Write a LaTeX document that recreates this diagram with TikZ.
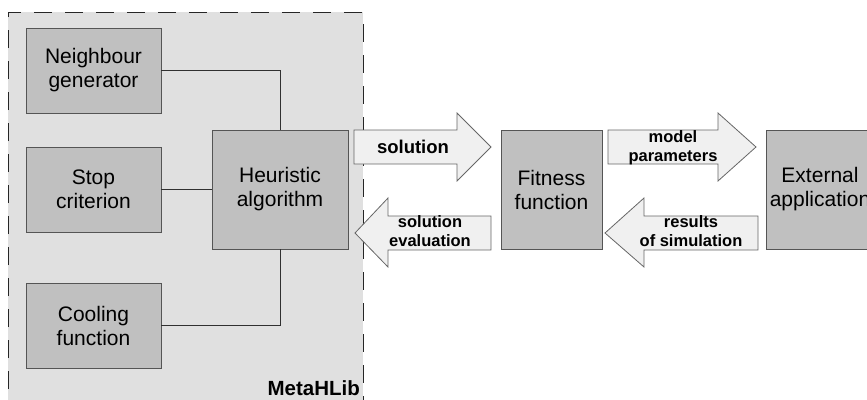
\documentclass[tikz,border=0pt]{standalone}
\usepackage{fontspec}
\setmainfont{Liberation Sans}
\definecolor{outerfill}{HTML}{E0E0E0}
\definecolor{boxfill}{HTML}{C0C0C0}
\definecolor{boxline}{HTML}{555555}
\definecolor{arrowfill}{HTML}{F0F0F0}
\definecolor{arrowline}{HTML}{666666}
\definecolor{conline}{HTML}{303030}
\begin{document}
\begin{tikzpicture}[x=1pt,y=-1pt,
  block/.style={draw=boxline,fill=boxfill,line width=0.9pt,inner sep=0pt,align=center,
    font=\fontsize{21}{24}\selectfont},
  blockarrow/.style={draw=arrowline,fill=arrowfill,line width=0.8pt,line join=miter},
  biglabel/.style={font=\fontsize{18.5}{21}\selectfont\bfseries,inner sep=0pt},
  smalllabel/.style={font=\fontsize{16.5}{19}\selectfont\bfseries,inner sep=0pt,align=center},
  conn/.style={draw=conline,line width=0.9pt},
  boundary/.style={draw=black!85,line width=0.9pt,dash pattern=on 18pt off 13pt}
]
\useasboundingbox (0,0) rectangle (867,399);
\clip (0,0) rectangle (867,399);
% MetaHLib container
\fill[outerfill] (8,12) rectangle (363,420);
\draw[boundary] (8,420) -- (8,12) -- (363,12) -- (363,420);
\node[font=\fontsize{20.5}{24}\selectfont\bfseries,anchor=base east,inner sep=0pt] (lib) at (360,395) {MetaHLib};
% blocks
\node[block,minimum width=135pt,minimum height=85pt] (nbr) at (93.5,70.5) {Neighbour\\generator};
\node[block,minimum width=135pt,minimum height=85pt] (stop) at (93.5,189.5) {Stop\\criterion};
\node[block,minimum width=135pt,minimum height=85pt] (cool) at (93.5,325.5) {Cooling\\function};
\node[block,minimum width=136pt,minimum height=119pt] (heur) at (280,189.5) {Heuristic\\algorithm};
\node[block,minimum width=101pt,minimum height=119pt] (fit) at (551.5,189.5) {Fitness\\function};
\node[block,minimum width=108pt,minimum height=119pt] (ext) at (820,189.5) {External\\application};
% connectors
\draw[conn] (nbr.east) -| (heur.north);
\draw[conn] (stop.east) -- (heur.west);
\draw[conn] (cool.east) -| (heur.south);
% block arrows
\draw[blockarrow] (354,130) -- (457,130) -- (457,113) -- (491,147) -- (457,181) -- (457,164) -- (354,164) -- cycle;
\draw[blockarrow] (491,216) -- (388,216) -- (388,198) -- (355,233) -- (388,267) -- (388,250) -- (491,250) -- cycle;
\draw[blockarrow] (608,130) -- (718,130) -- (718,113) -- (756,147) -- (718,181) -- (718,164) -- (608,164) -- cycle;
\draw[blockarrow] (758,216) -- (644,216) -- (644,198) -- (605,233) -- (644,267) -- (644,250) -- (758,250) -- cycle;
% arrow labels
\node[biglabel] (lsol) at (413,147) {solution};
\node[smalllabel] (leval) at (430,231.5) {solution\\evaluation};
\node[smalllabel] (lpar) at (673,148) {model\\parameters};
\node[smalllabel] (lres) at (691,231.5) {results\\of simulation};
\end{tikzpicture}
\end{document}
